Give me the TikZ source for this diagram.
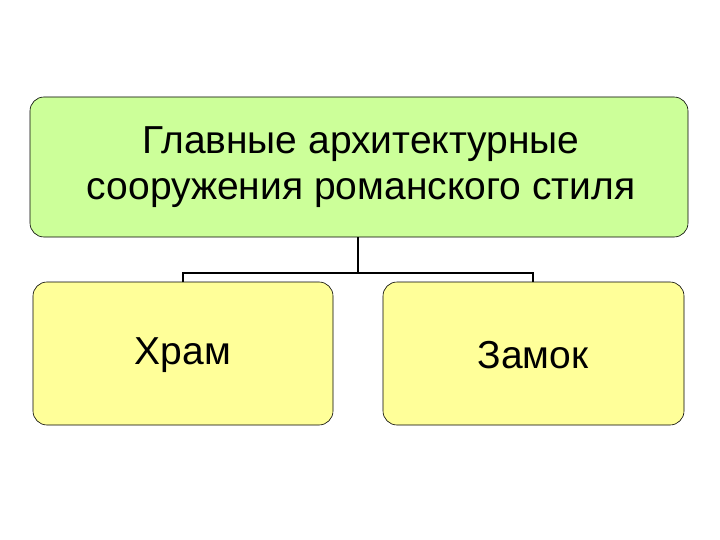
\documentclass[tikz,border=0pt]{standalone}
\usepackage{fontspec}
\setmainfont{Liberation Sans}
\begin{document}
\begin{tikzpicture}[x=1pt,y=-1pt,
 box/.style={draw=black, rounded corners=14pt, line width=0.6pt},
 lbl/.style={font=\fontsize{39}{46}\selectfont, align=center}]
\useasboundingbox (0,0) rectangle (720,540);
\definecolor{gfill}{RGB}{204,255,153}
\definecolor{yfill}{RGB}{255,255,153}
\draw[box, fill=gfill] (30,97) rectangle (688,237);
\draw[box, fill=yfill] (33,282) rectangle (333,425);
\draw[box, fill=yfill] (383,282) rectangle (684,425);
\node[lbl] (top) at (361,167) {Главные архитектурные\\сооружения романского стиля};
\node[lbl] (a) at (183,355) {Храм};
\node[lbl] (b) at (533,355) {Замок};
\coordinate (t) at (358,237);
\coordinate (m) at (358,273);
\draw[line width=1.2pt] (t) -- (m) (183,282) -- (183,273) -- (533,273) -- (533,282);
\end{tikzpicture}
\end{document}
